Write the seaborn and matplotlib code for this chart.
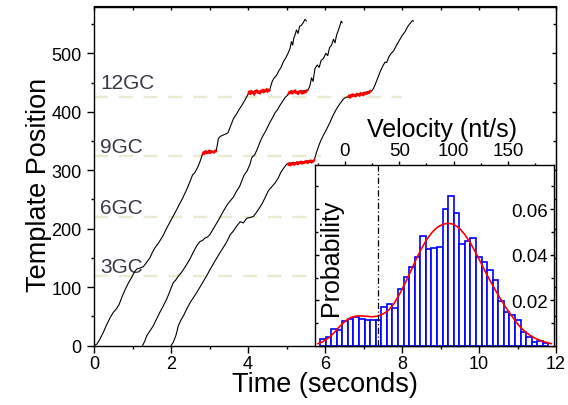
import numpy as np
import pandas as pd
import matplotlib
matplotlib.use("Agg")
import matplotlib.pyplot as plt
from matplotlib.ticker import MultipleLocator, FixedLocator
import seaborn as sns

# ---------------- data ----------------
# trace 1 (black part)
t1 = [0.00, 0.08, 0.16, 0.25, 0.33, 0.42, 0.50, 0.58, 0.65, 0.73, 0.81, 0.90, 0.98, 1.05, 1.11,
      1.20, 1.28, 1.36, 1.45, 1.52, 1.58, 1.68, 1.80, 1.88, 1.97, 2.06, 2.15, 2.22, 2.30, 2.40,
      2.49, 2.56, 2.62, 2.70, 2.76, 2.82,
      3.17, 3.20, 3.23, 3.28, 3.35, 3.42, 3.48, 3.55, 3.62, 3.70, 3.77, 3.84, 3.92, 4.01,
      4.56, 4.60, 4.63, 4.68, 4.74, 4.80, 4.86, 4.92, 4.98, 5.04, 5.09, 5.13, 5.16, 5.19, 5.22,
      5.26, 5.30, 5.34, 5.39, 5.44, 5.48, 5.52]
p1 = [0, 3, 12, 24, 36, 48, 57, 63, 70, 84, 96, 108, 117, 126, 131,
      133, 135, 142, 150, 160, 167, 176, 189, 200, 211, 222, 233, 242, 252, 266,
      280, 292, 296, 306, 316, 328,
      332, 342, 354, 358, 360, 362, 364, 376, 388, 396, 404, 411, 420, 431,
      436, 446, 452, 458, 462, 470, 476, 486, 492, 500, 508, 520, 514, 526, 531,
      540, 534, 546, 548, 553, 558, 555]

# trace 2 (black part)
t2 = [1.26, 1.32, 1.37, 1.45, 1.54, 1.62, 1.71, 1.80, 1.89, 1.97, 2.06, 2.12, 2.18, 2.28, 2.38,
      2.49, 2.58, 2.67, 2.75, 2.82, 2.88, 2.95, 3.01, 3.10, 3.19, 3.27, 3.36, 3.45, 3.53, 3.62,
      3.70, 3.78, 3.84, 3.90, 3.97, 4.05, 4.10, 4.17, 4.24, 4.31, 4.38, 4.45, 4.51, 4.57, 4.64,
      4.70, 4.77, 4.83, 4.90, 4.96, 5.02, 5.05,
      5.55, 5.58, 5.61, 5.65, 5.69, 5.74, 5.80, 5.85, 5.90, 5.96, 6.02, 6.07, 6.12, 6.17, 6.22,
      6.26, 6.30, 6.35, 6.39, 6.42, 6.45]
p2 = [0, 8, 17, 25, 34, 45, 57, 68, 80, 93, 108, 112, 118, 126, 136,
      148, 160, 171, 178, 180, 184, 186, 190, 200, 210, 219, 230, 240, 247, 254,
      264, 272, 282, 292, 298, 310, 322, 326, 336, 348, 358, 366, 374, 382, 390,
      398, 404, 411, 418, 424, 428, 431,
      437, 440, 445, 458, 452, 474, 480, 476, 488, 491, 500, 496, 510, 514, 524,
      518, 531, 540, 548, 555, 552]

# trace 3 (black part)
t3 = [2.00, 2.06, 2.13, 2.19, 2.26, 2.33, 2.41, 2.50, 2.58, 2.67, 2.75, 2.84, 2.93, 3.02, 3.10,
      3.19, 3.28, 3.36, 3.45, 3.54, 3.62, 3.71, 3.80, 3.88, 3.97, 4.05, 4.14, 4.22, 4.30, 4.36,
      4.45, 4.53, 4.62, 4.70, 4.78, 4.85, 4.92, 5.00, 5.05,
      5.72, 5.75, 5.78, 5.85, 5.90, 5.96, 6.04, 6.13, 6.21, 6.30, 6.39, 6.48, 6.55, 6.60,
      7.20, 7.23, 7.26, 7.30, 7.36, 7.43, 7.50, 7.56, 7.60, 7.66, 7.72, 7.78, 7.86, 7.93, 8.00,
      8.08, 8.15, 8.22, 8.27, 8.30]
p3 = [0, 6, 18, 34, 44, 52, 63, 74, 82, 91, 100, 110, 120, 131, 140,
      150, 160, 168, 178, 190, 196, 205, 212, 210, 218, 219, 221, 228, 236, 242,
      254, 265, 272, 278, 286, 296, 303, 310, 312,
      317, 324, 331, 344, 352, 360, 370, 382, 394, 405, 414, 422, 425, 425,
      436, 437, 440, 446, 456, 468, 478, 485, 484, 494, 500, 504, 514, 522, 530,
      537, 546, 552, 556, 555]

# pauses (red)
pause1a_t = [2.82, 2.845, 2.87, 2.895, 2.92, 2.945, 2.97, 2.995, 3.02, 3.045, 3.07, 3.095, 3.12, 3.145, 3.17]
pause1a_p = [327, 331, 328, 333, 329, 332, 330, 334, 329, 333, 331, 332, 330, 334, 332]
pause1b_t = [4.01, 4.035, 4.06, 4.085, 4.11, 4.135, 4.16, 4.185, 4.21, 4.235, 4.26, 4.285, 4.31, 4.335,
             4.36, 4.385, 4.41, 4.435, 4.46, 4.485, 4.51, 4.535, 4.56]
pause1b_p = [431, 435, 430, 436, 432, 434, 429, 436, 433, 437, 432, 435, 431, 436, 434, 438, 433, 437,
             435, 439, 434, 438, 436]
pause2a_t = [5.05, 5.075, 5.10, 5.125, 5.15, 5.175, 5.20, 5.225, 5.25, 5.275, 5.30, 5.325, 5.35, 5.375,
             5.40, 5.425, 5.45, 5.475, 5.50, 5.525, 5.55]
pause2a_p = [430, 434, 432, 436, 431, 435, 433, 437, 432, 434, 430, 435, 433, 436, 431, 434, 432, 435,
             433, 436, 437]
pause3a_t = [5.05, 5.075, 5.10, 5.125, 5.15, 5.175, 5.20, 5.225, 5.25, 5.275, 5.30, 5.325, 5.35, 5.375,
             5.40, 5.425, 5.45, 5.475, 5.50, 5.525, 5.55, 5.575, 5.60, 5.625, 5.65, 5.675, 5.70, 5.725]
pause3a_p = [309, 312, 308, 311, 310, 313, 309, 312, 311, 314, 310, 313, 312, 315, 311, 314, 312, 315,
             313, 316, 312, 315, 314, 317, 313, 316, 315, 318]
pause3b_t = [6.60, 6.625, 6.65, 6.675, 6.70, 6.725, 6.75, 6.775, 6.80, 6.825, 6.85, 6.875, 6.90, 6.925,
             6.95, 6.975, 7.00, 7.025, 7.05, 7.075, 7.10, 7.125, 7.15, 7.175, 7.20]
pause3b_p = [425, 428, 424, 429, 426, 430, 427, 429, 426, 431, 428, 430, 427, 432, 429, 431, 428, 433,
             430, 432, 431, 434, 432, 436, 435]

# GC sites
gc_labels = ["3GC", "6GC", "9GC", "12GC"]
gc_pos = [119, 220, 325, 425]
gc_line_end = [5.9, 5.9, 5.9, 8.0]
gc_label_y = [126, 227, 331, 441]

# velocity histogram
hist_prob = [0.0030, 0.0038, 0.0076, 0.0072, 0.0111, 0.0118, 0.0125, 0.0120, 0.0113, 0.0112,
             0.0112, 0.0172, 0.0185, 0.0166, 0.0250, 0.0304, 0.0348, 0.0392, 0.0480, 0.0427,
             0.0428, 0.0432, 0.0600, 0.0659, 0.0581, 0.0446, 0.0460, 0.0473, 0.0388, 0.0366,
             0.0335, 0.0290, 0.0195, 0.0150, 0.0134, 0.0116, 0.0062, 0.0040, 0.0018, 0.0021,
             0.0014]
hist_left = -23.0
hist_width = 5.13

fit_vel = [-25, -20, -15, -10, -5, 0, 5, 10, 15, 20, 25, 30, 35, 40, 45, 50, 55, 60, 65, 70,
           75, 80, 85, 90, 95, 100, 105, 110, 115, 120, 125, 130, 135, 140, 145, 150, 155, 160,
           165, 170, 175, 180, 185, 190]
fit_prob = [0.0010, 0.0020, 0.0036, 0.0058, 0.0085, 0.0108, 0.0124, 0.0131, 0.0132, 0.0130,
            0.0128, 0.0131, 0.0140, 0.0156, 0.0185, 0.0225, 0.0272, 0.0322, 0.0375, 0.0423,
            0.0465, 0.0497, 0.0520, 0.0533, 0.0538, 0.0533, 0.0517, 0.0490, 0.0455, 0.0412,
            0.0366, 0.0318, 0.0274, 0.0232, 0.0192, 0.0155, 0.0122, 0.0090, 0.0066, 0.0048,
            0.0034, 0.0024, 0.0016, 0.0010]
threshold_vel = 30

# ---------------- plotting ----------------
sns.set_style("ticks")
plt.rcParams["font.family"] = ["Liberation Sans", "DejaVu Sans"]
plt.rcParams.update({"text.color": "black", "axes.labelcolor": "black",
                     "xtick.color": "black", "ytick.color": "black",
                     "axes.edgecolor": "black"})

W, H = 568, 406
fig = plt.figure(figsize=(W / 100, H / 100), dpi=100)

def px_rect(x0, y0, x1, y1):
    return [x0 / W, 1 - y1 / H, (x1 - x0) / W, (y1 - y0) / H]

ax = fig.add_axes(px_rect(94, 7.5, 556, 346.7))

for lbl, pos, tend in zip(gc_labels, gc_pos, gc_line_end):
    ax.plot([0, tend], [pos, pos], color="#ecead2", lw=1.7, ls=(0, (6, 4.5)), zorder=1)

for tt, pp in [(t1, p1), (t2, p2), (t3, p3)]:
    sns.lineplot(x=tt, y=pp, ax=ax, color="black", lw=0.8, estimator=None, sort=False, zorder=3)

for tt, pp in [(pause1a_t, pause1a_p), (pause1b_t, pause1b_p), (pause2a_t, pause2a_p),
               (pause3a_t, pause3a_p), (pause3b_t, pause3b_p)]:
    sns.lineplot(x=tt, y=pp, ax=ax, color="red", lw=1.5, estimator=None, sort=False, zorder=4)

for lbl, ly in zip(gc_labels, gc_label_y):
    ax.text(0.16, ly, lbl, fontsize=15, color="#383848", ha="left", va="baseline", zorder=2)

ax.set_xlim(0, 12)
ax.set_ylim(0, 580)
ax.xaxis.set_major_locator(MultipleLocator(2))
ax.xaxis.set_minor_locator(MultipleLocator(1))
ax.yaxis.set_major_locator(MultipleLocator(100))
ax.yaxis.set_minor_locator(MultipleLocator(50))
ax.tick_params(axis="both", which="major", direction="out", length=4.8, width=1,
               labelsize=13, pad=2)
ax.tick_params(axis="y", which="major", pad=4)
ax.tick_params(axis="both", which="minor", direction="out", length=2.5, width=1)
for s in ax.spines.values():
    s.set_linewidth(1.0)
    s.set_color("black")
ax.set_xlabel("Time (seconds)", fontsize=19.5, labelpad=-1)
ax.set_ylabel("Template Position", fontsize=19.5, labelpad=0)
ax.yaxis.label.set_y(0.477)

topax = ax.secondary_xaxis("top")
topax.xaxis.set_major_locator(MultipleLocator(1))
topax.tick_params(direction="in", length=3, width=1, labeltop=False)
rightax = ax.secondary_yaxis("right")
rightax.yaxis.set_major_locator(MultipleLocator(100))
rightax.yaxis.set_minor_locator(MultipleLocator(50))
rightax.tick_params(which="major", direction="in", length=3, width=1, labelright=False)
rightax.tick_params(which="minor", direction="in", length=2, width=1)

# ---- inset ----
ax_in = fig.add_axes(px_rect(315, 166, 554, 347))
ax_in.set_facecolor("white")
vel_edges = [hist_left + hist_width * i for i in range(len(hist_prob) + 1)]
vel_centers = [(a + b) / 2 for a, b in zip(vel_edges[:-1], vel_edges[1:])]
hist_df = pd.DataFrame({"vel": vel_centers, "prob": hist_prob})
sns.histplot(data=hist_df, x="vel", weights="prob", bins=vel_edges, ax=ax_in, color="white",
             edgecolor="#0000ff", linewidth=1.2, alpha=1, zorder=2)
sns.lineplot(x=fit_vel, y=fit_prob, ax=ax_in, color="red", lw=1.2, zorder=3)
ax_in.axvline(threshold_vel, color="black", lw=0.9, ls=(0, (5, 2, 1, 2)), zorder=4)

ax_in.set_xlim(-27.6, 192.4)
ax_in.set_ylim(0, 0.0793)
ax_in.xaxis.tick_top()
ax_in.xaxis.set_major_locator(FixedLocator([0, 50, 100, 150]))
ax_in.xaxis.set_minor_locator(FixedLocator([-25, 25, 75, 125, 175]))
ax_in.tick_params(axis="x", which="major", direction="out", length=3, width=1, labelsize=13.5, pad=1.5)
ax_in.tick_params(axis="x", which="minor", direction="out", length=1.8, width=1)
ax_in.xaxis.set_label_position("top")
ax_in.set_xlabel("Velocity (nt/s)", fontsize=18, labelpad=4)
ax_in.xaxis.label.set_x(0.533)

ax_in.yaxis.set_major_locator(FixedLocator([0.02, 0.04, 0.06]))
ax_in.yaxis.set_minor_locator(FixedLocator([0.01, 0.03, 0.05, 0.07]))
ax_in.tick_params(axis="y", which="major", direction="in", left=True, right=True,
                  labelleft=False, labelright=True, length=3, width=1, labelsize=13.5, pad=-4.5)
ax_in.tick_params(axis="y", which="minor", direction="in", left=True, right=True,
                  length=2, width=1)
for lab in ax_in.get_yticklabels():
    lab.set_horizontalalignment("right")
ax_in.set_ylabel("")
ax_in.text(0.068, 0.49, "Probability", transform=ax_in.transAxes, rotation=90,
           ha="center", va="center", fontsize=18)
for s in ax_in.spines.values():
    s.set_linewidth(1.0)
    s.set_color("black")
    s.set_visible(True)

fig.savefig("out.png", dpi=100)
